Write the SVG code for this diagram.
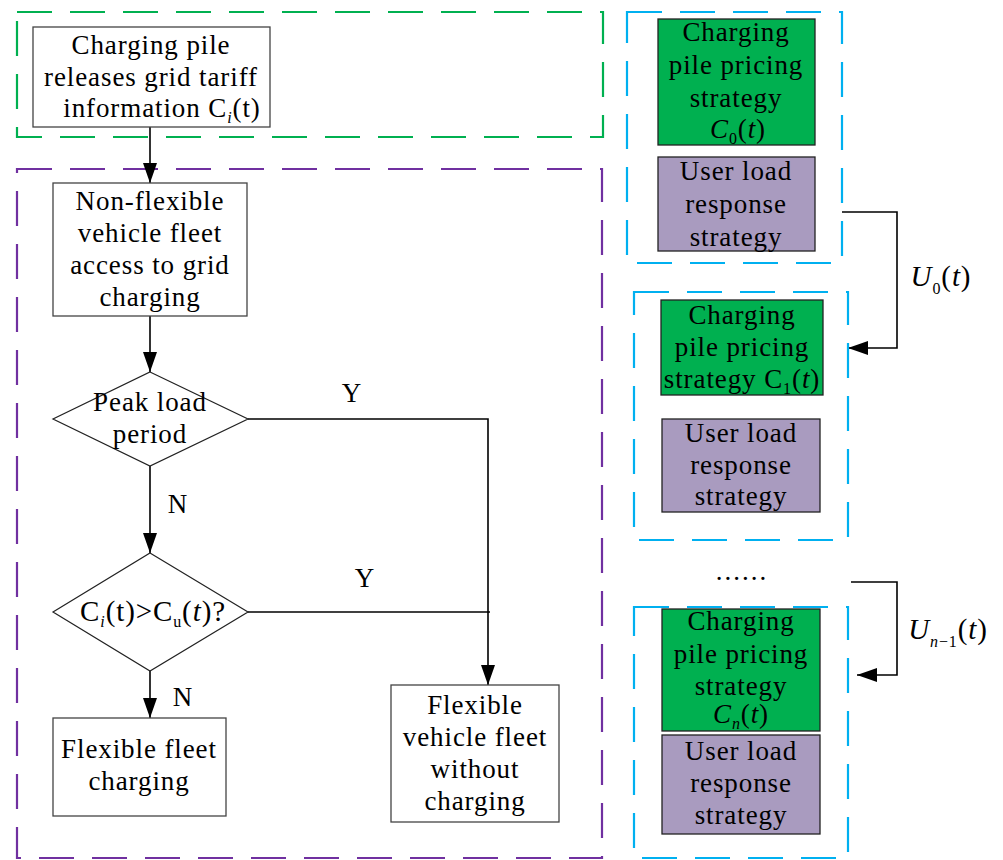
<svg xmlns="http://www.w3.org/2000/svg" width="1003" height="860" viewBox="0 0 1003 860">
<defs>
<marker id="arr" markerWidth="20" markerHeight="14" refX="20" refY="7" orient="auto" markerUnits="userSpaceOnUse">
<path d="M0,0 L20,7 L0,14 z" fill="#000"/>
</marker>
<style>
text{font-family:"Liberation Serif","DejaVu Serif",serif;font-size:27px;letter-spacing:0.9px;fill:#000;text-anchor:middle}
.box{fill:#fff;stroke:#444;stroke-width:1.3}
.g{fill:#00b050;stroke:#222;stroke-width:1.3}
.p{fill:#a99bbf;stroke:#222;stroke-width:1.3}
.dg{fill:none;stroke:#00b050;stroke-width:2.2;stroke-dasharray:35 18}
.dp{fill:none;stroke:#7030a0;stroke-width:2.2;stroke-dasharray:35 18}
.db{fill:none;stroke:#00b0f0;stroke-width:2.2;stroke-dasharray:35 18}
.ln{fill:none;stroke:#000;stroke-width:1.6}
.dm{fill:#fff;stroke:#222;stroke-width:1.2}
.it{font-style:italic}
.sub{font-size:16px}
</style>
</defs>

<g id="region-grid">
<rect class="dg" x="17" y="12" width="586" height="125"/>
</g>
<g id="region-fleet">
<rect class="dp" x="17" y="169" width="585" height="689"/>
</g>

<g id="connectors">
<line class="ln" x1="150" y1="127" x2="150" y2="183" marker-end="url(#arr)"/>
<line class="ln" x1="150" y1="316" x2="150" y2="372" marker-end="url(#arr)"/>
<line class="ln" x1="150" y1="466" x2="150" y2="553" marker-end="url(#arr)"/>
<line class="ln" x1="150" y1="671" x2="150" y2="718" marker-end="url(#arr)"/>
<polyline class="ln" points="248,419 488,419 488,685" marker-end="url(#arr)"/>
<line class="ln" x1="248" y1="612" x2="490" y2="612"/>
<polyline class="ln" points="842,212 897,212 897,348 848,348" marker-end="url(#arr)"/>
<polyline class="ln" points="851,582 897,582 897,675 857,675" marker-end="url(#arr)"/>
<text x="352" y="402">Y</text>
<text x="365" y="587">Y</text>
<text x="178" y="513">N</text>
<text x="183" y="706">N</text>
<text x="941" y="286" style="font-size:29px"><tspan class="it">U</tspan><tspan class="sub" dy="8">0</tspan><tspan dy="-8">(</tspan><tspan class="it">t</tspan>)</text>
<text x="948" y="639" style="font-size:29px"><tspan class="it">U</tspan><tspan class="sub it" dy="8">n</tspan><tspan class="sub">−1</tspan><tspan dy="-8">(</tspan><tspan class="it">t</tspan>)</text>
</g>

<g id="n-release">
<rect class="box" x="33" y="27" width="237" height="100"/>
<text x="151" y="54">Charging pile</text>
<text x="151" y="86">releases grid tariff</text>
<text x="162" y="117">information C<tspan class="sub it" dy="6">i</tspan><tspan dy="-6">(t)</tspan></text>
</g>

<g id="n-nonflex">
<rect class="box" x="53" y="183" width="194" height="133"/>
<text x="150" y="210">Non-flexible</text>
<text x="150" y="242">vehicle fleet</text>
<text x="150" y="274">access to grid</text>
<text x="150" y="306">charging</text>
</g>

<g id="n-peak">
<polygon class="dm" points="150,372 248,419 150,466 53,419"/>
<text x="150" y="411">Peak load</text>
<text x="150" y="443">period</text>
</g>

<g id="n-compare">
<polygon class="dm" points="150,553 248,612 150,671 53,612"/>
<text x="153" y="621" style="font-size:29px">C<tspan class="sub it" dy="6">i</tspan><tspan dy="-6">(t)&gt;C</tspan><tspan class="sub" dy="6">u</tspan><tspan dy="-6">(</tspan><tspan class="it">t</tspan>)?</text>
</g>

<g id="n-flexcharge">
<rect class="box" x="53" y="718" width="173" height="98"/>
<text x="139" y="758">Flexible fleet</text>
<text x="139" y="790">charging</text>
</g>

<g id="n-flexnocharge">
<rect class="box" x="391" y="685" width="168" height="137"/>
<text x="475" y="714">Flexible</text>
<text x="475" y="746">vehicle fleet</text>
<text x="475" y="778">without</text>
<text x="475" y="810">charging</text>
</g>

<g id="n-stage0">
<rect class="g" x="658" y="19" width="157" height="126"/>
<text x="736" y="41">Charging</text>
<text x="736" y="74">pile pricing</text>
<text x="736" y="107">strategy</text>
<text x="738" y="138"><tspan class="it">C</tspan><tspan class="sub" dy="6">0</tspan><tspan dy="-6">(</tspan><tspan class="it">t</tspan>)</text>
<rect class="p" x="658" y="157" width="157" height="94"/>
<text x="736" y="180">User load</text>
<text x="736" y="213">response</text>
<text x="736" y="246">strategy</text>
<rect class="db" x="627" y="12" width="215" height="251"/>
</g>

<g id="n-stage1">
<rect class="g" x="661" y="300" width="162" height="95"/>
<text x="742" y="324">Charging</text>
<text x="742" y="356">pile pricing</text>
<text x="742" y="388">strategy <tspan>C</tspan><tspan class="sub" dy="6">1</tspan><tspan dy="-6">(</tspan><tspan class="it">t</tspan>)</text>
<rect class="p" x="662" y="419" width="158" height="93"/>
<text x="741" y="442">User load</text>
<text x="741" y="474">response</text>
<text x="741" y="505">strategy</text>
<rect class="db" x="634" y="292" width="214" height="248"/>
</g>

<g id="n-dots">
<text x="742" y="580" style="letter-spacing:2px">......</text>
</g>

<g id="n-stagen">
<rect class="g" x="662" y="609" width="158" height="122"/>
<text x="741" y="630">Charging</text>
<text x="741" y="663">pile pricing</text>
<text x="741" y="695">strategy</text>
<text x="741" y="723"><tspan class="it">C</tspan><tspan class="sub it" dy="6">n</tspan><tspan dy="-6">(</tspan><tspan class="it">t</tspan>)</text>
<rect class="p" x="662" y="735" width="158" height="99"/>
<text x="741" y="760">User load</text>
<text x="741" y="792">response</text>
<text x="741" y="824">strategy</text>
<rect class="db" x="634" y="607" width="214" height="251"/>
</g>
</svg>
